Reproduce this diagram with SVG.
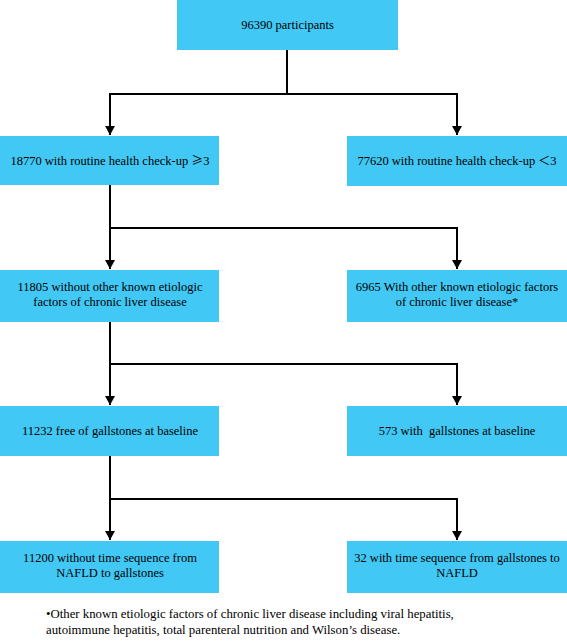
<svg xmlns="http://www.w3.org/2000/svg" width="567" height="642" viewBox="0 0 567 642">
<defs>
<style>
.box{fill:#41C8F4;}
.t{font-size:12.5px;fill:#000;text-anchor:middle;}
.fn{font-size:12.8px;fill:#000;}
.cjk{font-family:'Noto Sans CJK SC',sans-serif;font-size:12px;}
.c{fill:none;stroke:#000;stroke-width:2;}
</style>
<marker id="a" markerWidth="10" markerHeight="9" refX="5" refY="9" orient="0" markerUnits="userSpaceOnUse" viewBox="0 0 10 9">
<path d="M0,0 L10,0 L5,9 Z" fill="#000"/>
</marker>
</defs>
<rect width="567" height="642" fill="#fff"/>
<g id="connectors">
<path class="c" d="M287,50 V94 H110 V135" marker-end="url(#a)"/>
<path class="c" d="M287,94 H457 V135" marker-end="url(#a)"/>
<path class="c" d="M110,185 V269" marker-end="url(#a)"/>
<path class="c" d="M110,228 H457 V269" marker-end="url(#a)"/>
<path class="c" d="M110,322 V405" marker-end="url(#a)"/>
<path class="c" d="M110,364 H457 V405" marker-end="url(#a)"/>
<path class="c" d="M110,456 V540" marker-end="url(#a)"/>
<path class="c" d="M110,499 H457 V540" marker-end="url(#a)"/>
</g>
<g font-family="Liberation Serif, Times New Roman, serif">
<g id="n1"><rect class="box" x="177" y="0" width="221" height="50"/><text class="t" x="287.5" y="29" font-size="11.5">96390 participants</text></g>
<g id="n2"><rect class="box" x="0" y="136" width="219" height="49"/><text class="t" x="110" y="165">18770 with routine health check-up <tspan class="cjk">≥</tspan>3</text></g>
<g id="n3"><rect class="box" x="347" y="136" width="220" height="50"/><text class="t" x="457" y="165">77620 with routine health check-up <tspan class="cjk">＜</tspan>3</text></g>
<g id="n4"><rect class="box" x="0" y="270" width="219" height="52"/><text class="t" x="110" y="291">11805 without other known etiologic</text><text class="t" x="110" y="306">factors of chronic liver disease</text></g>
<g id="n5"><rect class="box" x="347" y="270" width="220" height="52"/><text class="t" x="457" y="291">6965 With other known etiologic factors</text><text class="t" x="457" y="306">of chronic liver disease*</text></g>
<g id="n6"><rect class="box" x="0" y="406" width="219" height="50"/><text class="t" x="110" y="435">11232 free of gallstones at baseline</text></g>
<g id="n7"><rect class="box" x="347" y="406" width="220" height="50"/><text class="t" x="457" y="435" xml:space="preserve">573 with  gallstones at baseline</text></g>
<g id="n8"><rect class="box" x="0" y="541" width="219" height="52"/><text class="t" x="110" y="562">11200 without time sequence from</text><text class="t" x="110" y="577">NAFLD to gallstones</text></g>
<g id="n9"><rect class="box" x="347" y="541" width="220" height="52"/><text class="t" x="457" y="562">32 with time sequence from gallstones to</text><text class="t" x="457" y="577">NAFLD</text></g>
<g id="footnote"><text class="fn" x="46" y="618">•Other known etiologic factors of chronic liver disease including viral hepatitis,</text><text class="fn" x="46" y="634">autoimmune hepatitis, total parenteral nutrition and Wilson’s disease.</text></g>
</g>
</svg>
